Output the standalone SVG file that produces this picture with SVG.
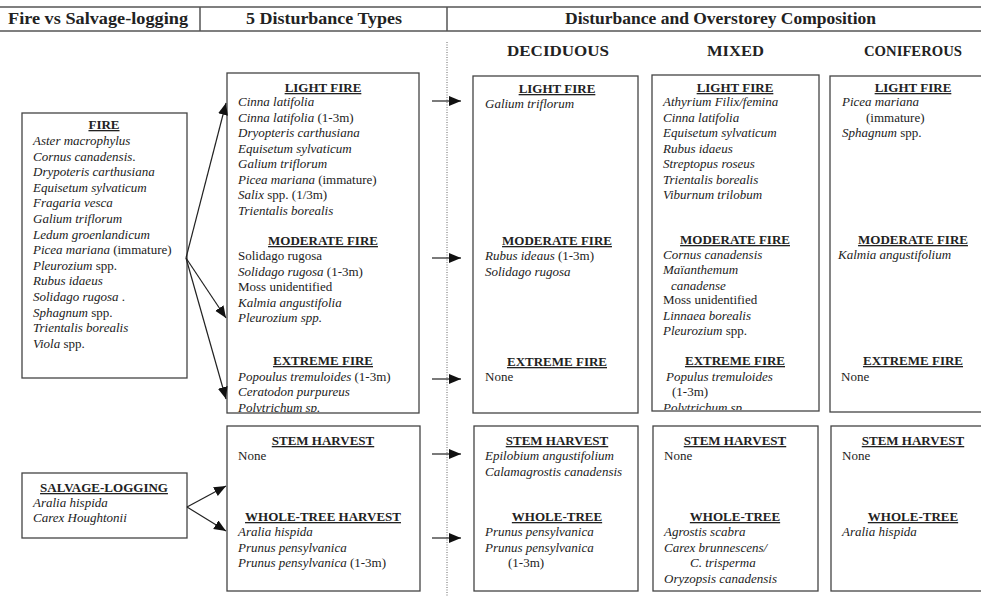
<svg xmlns="http://www.w3.org/2000/svg" width="981" height="596" viewBox="0 0 981 596">
<style>
text{font-family:"Liberation Serif","Times New Roman",serif;font-size:13px;fill:#222}
.i{font-style:italic}
.n{font-style:normal}
.h{font-weight:bold;text-decoration:underline;text-anchor:middle}
.hd{font-weight:bold;font-size:17px}
.col{font-weight:bold;font-size:15px}
.box{fill:#fff;stroke:#444;stroke-width:1.3}
.rule{stroke:#555;stroke-width:1.5;fill:none}
.conn line{stroke:#222;stroke-width:1.2;fill:none}
</style>
<defs>
<marker id="ah" markerUnits="userSpaceOnUse" markerWidth="14" markerHeight="12" refX="12" refY="5" orient="auto">
<path d="M0,0 L12,5 L0,10 z" fill="#111"/>
</marker>
<clipPath id="cMid"><rect x="227" y="73" width="192" height="339"/></clipPath>
<clipPath id="cMix"><rect x="652" y="75" width="167" height="335"/></clipPath>
</defs>
<rect width="981" height="596" fill="#fff"/>

<g id="header">
<line class="rule" x1="0" y1="7" x2="981" y2="7"/>
<line class="rule" x1="0" y1="31" x2="981" y2="31"/>
<line class="rule" x1="200" y1="7" x2="200" y2="31"/>
<line class="rule" x1="447" y1="7" x2="447" y2="31"/>
<text class="hd" x="8" y="24" textLength="180" lengthAdjust="spacingAndGlyphs">Fire vs Salvage-logging</text>
<text class="hd" x="246" y="24" textLength="156" lengthAdjust="spacingAndGlyphs">5 Disturbance Types</text>
<text class="hd" x="565" y="24" textLength="311" lengthAdjust="spacingAndGlyphs">Disturbance and Overstorey Composition</text>
<text class="col" x="507" y="56" textLength="102" lengthAdjust="spacingAndGlyphs">DECIDUOUS</text>
<text class="col" x="707" y="56" textLength="57" lengthAdjust="spacingAndGlyphs">MIXED</text>
<text class="col" x="864" y="56" textLength="98" lengthAdjust="spacingAndGlyphs">CONIFEROUS</text>
<line x1="447" y1="42" x2="447" y2="596" stroke="#666" stroke-width="1" stroke-dasharray="1,1.5"/>
</g>

<g id="fire">
<rect class="box" x="22" y="113" width="165" height="265"/>
<text class="h" x="104" y="129">FIRE</text>
<text class="i" x="33" y="145">Aster macrophylus</text>
<text class="i" x="33" y="160.6">Cornus canadensis<tspan class="n">.</tspan></text>
<text class="i" x="33" y="176.2">Drypoteris carthusiana</text>
<text class="i" x="33" y="191.8">Equisetum sylvaticum</text>
<text class="i" x="33" y="207.4">Fragaria vesca</text>
<text class="i" x="33" y="223">Galium triflorum</text>
<text class="i" x="33" y="238.6">Ledum groenlandicum</text>
<text class="i" x="33" y="254.2">Picea mariana<tspan class="n"> (immature)</tspan></text>
<text class="i" x="33" y="269.8">Pleurozium<tspan class="n"> spp.</tspan></text>
<text class="i" x="33" y="285.4">Rubus idaeus</text>
<text class="i" x="33" y="301">Solidago rugosa<tspan class="n"> .</tspan></text>
<text class="i" x="33" y="316.6">Sphagnum<tspan class="n"> spp.</tspan></text>
<text class="i" x="33" y="332.2">Trientalis borealis</text>
<text class="i" x="33" y="347.8">Viola<tspan class="n"> spp.</tspan></text>
</g>

<g id="salvage">
<rect class="box" x="22" y="473" width="165" height="65"/>
<text class="h" x="104" y="492">SALVAGE-LOGGING</text>
<text class="i" x="33" y="506.5">Aralia hispida</text>
<text class="i" x="33" y="522">Carex Houghtonii</text>
</g>

<g id="fire-types">
<rect class="box" x="227" y="73" width="192" height="340"/>
<g clip-path="url(#cMid)">
<text class="h" x="323" y="92">LIGHT FIRE</text>
<text class="i" x="238" y="106">Cinna latifolia</text>
<text class="i" x="238" y="121.5">Cinna latifolia<tspan class="n"> (1-3m)</tspan></text>
<text class="i" x="238" y="137">Dryopteris carthusiana</text>
<text class="i" x="238" y="152.5">Equisetum sylvaticum</text>
<text class="i" x="238" y="168">Galium triflorum</text>
<text class="i" x="238" y="183.5">Picea mariana<tspan class="n"> (immature)</tspan></text>
<text class="i" x="238" y="199">Salix<tspan class="n"> spp. (1/3m)</tspan></text>
<text class="i" x="238" y="214.5">Trientalis borealis</text>
<text class="h" x="323" y="245">MODERATE FIRE</text>
<text x="238" y="260">Solidago rugosa</text>
<text class="i" x="238" y="275.5">Solidago rugosa<tspan class="n"> (1-3m)</tspan></text>
<text x="238" y="291">Moss unidentified</text>
<text class="i" x="238" y="306.5">Kalmia angustifolia</text>
<text class="i" x="238" y="322">Pleurozium spp.</text>
<text class="h" x="323" y="365">EXTREME FIRE</text>
<text class="i" x="238" y="380.5">Popoulus tremuloides<tspan class="n"> (1-3m)</tspan></text>
<text class="i" x="238" y="396">Ceratodon purpureus</text>
<text class="i" x="238" y="411.5">Polytrichum sp.</text>
</g>
</g>

<g id="harvest-types">
<rect class="box" x="227" y="426" width="193" height="165"/>
<text class="h" x="323" y="445">STEM HARVEST</text>
<text x="238" y="460">None</text>
<text class="h" x="323" y="521">WHOLE-TREE HARVEST</text>
<text class="i" x="238" y="536">Aralia hispida</text>
<text class="i" x="238" y="551.5">Prunus pensylvanica</text>
<text class="i" x="238" y="567">Prunus pensylvanica<tspan class="n"> (1-3m)</tspan></text>
</g>

<g id="deciduous-fire">
<rect class="box" x="473" y="76" width="165" height="337"/>
<text class="h" x="557" y="93">LIGHT FIRE</text>
<text class="i" x="485" y="108">Galium triflorum</text>
<text class="h" x="557" y="245">MODERATE FIRE</text>
<text class="i" x="485" y="260">Rubus ideaus<tspan class="n"> (1-3m)</tspan></text>
<text class="i" x="485" y="275.5">Solidago rugosa</text>
<text class="h" x="557" y="366">EXTREME FIRE</text>
<text x="485" y="381">None</text>
</g>

<g id="mixed-fire">
<rect class="box" x="652" y="75" width="167" height="336"/>
<g clip-path="url(#cMix)">
<text class="h" x="735" y="92">LIGHT FIRE</text>
<text class="i" x="663" y="106">Athyrium Filix/femina</text>
<text class="i" x="663" y="121.5">Cinna latifolia</text>
<text class="i" x="663" y="137">Equisetum sylvaticum</text>
<text class="i" x="663" y="152.5">Rubus idaeus</text>
<text class="i" x="663" y="168">Streptopus roseus</text>
<text class="i" x="663" y="183.5">Trientalis borealis</text>
<text class="i" x="663" y="199">Viburnum trilobum</text>
<text class="h" x="735" y="244">MODERATE FIRE</text>
<text class="i" x="663" y="259">Cornus canadensis</text>
<text class="i" x="663" y="274">Maïanthemum</text>
<text class="i" x="671" y="289.5">canadense</text>
<text x="663" y="304">Moss unidentified</text>
<text class="i" x="663" y="319.5">Linnaea borealis</text>
<text class="i" x="663" y="335">Pleurozium<tspan class="n"> spp.</tspan></text>
<text class="h" x="735" y="365">EXTREME FIRE</text>
<text class="i" x="666" y="380.5">Populus tremuloides</text>
<text x="672" y="396">(1-3m)</text>
<text class="i" x="663" y="411.5">Polytrichum sp.</text>
</g>
</g>

<g id="coniferous-fire">
<rect class="box" x="830" y="76" width="200" height="336"/>
<text class="h" x="913" y="92">LIGHT FIRE</text>
<text class="i" x="842" y="106">Picea mariana</text>
<text x="866" y="121.5">(immature)</text>
<text class="i" x="842" y="137">Sphagnum<tspan class="n"> spp.</tspan></text>
<text class="h" x="913" y="244">MODERATE FIRE</text>
<text class="i" x="838" y="259">Kalmia angustifolium</text>
<text class="h" x="913" y="365">EXTREME FIRE</text>
<text x="841" y="381">None</text>
</g>

<g id="deciduous-harvest">
<rect class="box" x="474" y="426" width="164" height="165"/>
<text class="h" x="557" y="445">STEM HARVEST</text>
<text class="i" x="485" y="460">Epilobium angustifolium</text>
<text class="i" x="485" y="475.5">Calamagrostis canadensis</text>
<text class="h" x="557" y="521">WHOLE-TREE</text>
<text class="i" x="485" y="536">Prunus pensylvanica</text>
<text class="i" x="485" y="551.5">Prunus pensylvanica</text>
<text x="508" y="567">(1-3m)</text>
</g>

<g id="mixed-harvest">
<rect class="box" x="653" y="426" width="165" height="165"/>
<text class="h" x="735" y="445">STEM HARVEST</text>
<text x="664" y="460">None</text>
<text class="h" x="735" y="521">WHOLE-TREE</text>
<text class="i" x="664" y="536">Agrostis scabra</text>
<text class="i" x="664" y="551.5">Carex brunnescens/</text>
<text class="i" x="690" y="567">C.  trisperma</text>
<text class="i" x="664" y="582.5">Oryzopsis canadensis</text>
</g>

<g id="coniferous-harvest">
<rect class="box" x="831" y="426" width="200" height="165"/>
<text class="h" x="913" y="445">STEM HARVEST</text>
<text x="842" y="460">None</text>
<text class="h" x="913" y="521">WHOLE-TREE</text>
<text class="i" x="842" y="536">Aralia hispida</text>
</g>

<g id="connectors" class="conn">
<line x1="186" y1="258" x2="226" y2="103" marker-end="url(#ah)"/>
<line x1="186" y1="258" x2="226" y2="318" marker-end="url(#ah)"/>
<line x1="186" y1="258" x2="226" y2="399" marker-end="url(#ah)"/>
<line x1="187" y1="507" x2="226" y2="486" marker-end="url(#ah)"/>
<line x1="187" y1="507" x2="226" y2="531" marker-end="url(#ah)"/>
<line x1="432" y1="101" x2="461" y2="101" marker-end="url(#ah)"/>
<line x1="432" y1="258" x2="461" y2="258" marker-end="url(#ah)"/>
<line x1="432" y1="379" x2="461" y2="379" marker-end="url(#ah)"/>
<line x1="432" y1="454" x2="461" y2="454" marker-end="url(#ah)"/>
<line x1="432" y1="538" x2="461" y2="538" marker-end="url(#ah)"/>
</g>
</svg>
